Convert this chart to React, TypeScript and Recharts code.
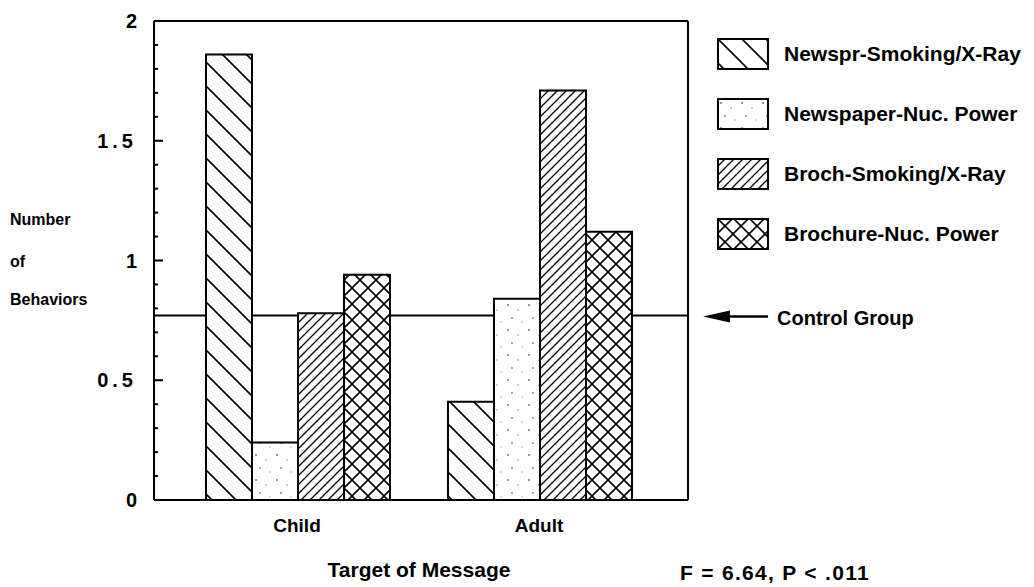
import React from 'react';
import { BarChart, Bar, XAxis, YAxis, ReferenceLine, Legend, CartesianGrid } from 'recharts';

const categories = ['Child', 'Adult'];
const seriesNames = [
  'Newspr-Smoking/X-Ray',
  'Newspaper-Nuc. Power',
  'Broch-Smoking/X-Ray',
  'Brochure-Nuc. Power',
];
const newsprSmoking = [1.86, 0.41];
const newspaperNuc = [0.24, 0.84];
const brochSmoking = [0.78, 1.71];
const brochureNuc = [0.94, 1.12];
const controlGroup = 0.77;
const yMajorTicks = [0, 0.5, 1, 1.5, 2];
const yMajorLabels = ['0', '0.5', '1', '1.5', '2'];
const yAllTicks = [
  0, 0.1, 0.2, 0.3, 0.4, 0.5, 0.6, 0.7, 0.8, 0.9, 1,
  1.1, 1.2, 1.3, 1.4, 1.5, 1.6, 1.7, 1.8, 1.9, 2,
];
const yDomain = [0, 2];
const xTitle = 'Target of Message';
const yTitle = ['Number', 'of', 'Behaviors'];
const statText = 'F = 6.64, P < .011';
const controlText = 'Control Group';

const seriesKeys = ['s0', 's1', 's2', 's3'];
const patternIds = ['patBack', 'patDots', 'patFwd', 'patCross'];

const data = categories.map((name, i) => ({
  name,
  s0: newsprSmoking[i],
  s1: newspaperNuc[i],
  s2: brochSmoking[i],
  s3: brochureNuc[i],
}));

const W = 1034;
const H = 587;
const MARGIN = { top: 21, right: 346, bottom: 0, left: 0 };
const YAXIS_W = 154;
const AXIS_X = MARGIN.left + YAXIS_W;
const FONT = '"Liberation Sans", Arial, Helvetica, sans-serif';

function Patterns() {
  return (
    <defs>
      <pattern id="patBack" patternUnits="userSpaceOnUse" width={24} height={24}>
        <rect width={24} height={24} fill="#fff" />
        <path d="M0,0 L24,24 M-6,18 L6,30 M18,-6 L30,6" stroke="#000" strokeWidth={1.6} />
      </pattern>
      <pattern id="patFwd" patternUnits="userSpaceOnUse" width={9} height={9}>
        <rect width={9} height={9} fill="#fff" />
        <path d="M0,9 L9,0 M-3,3 L3,-3 M6,12 L12,6" stroke="#000" strokeWidth={1.3} />
      </pattern>
      <pattern id="patCross" patternUnits="userSpaceOnUse" width={16} height={16}>
        <rect width={16} height={16} fill="#fff" />
        <path d="M0,0 L16,16 M16,0 L0,16" stroke="#000" strokeWidth={1.6} />
      </pattern>
      <pattern id="patDots" patternUnits="userSpaceOnUse" width={21} height={25}>
        <rect width={21} height={25} fill="#fff" />
        <circle cx={4} cy={5} r={0.9} fill="#666" />
        <circle cx={14} cy={10} r={0.8} fill="#888" />
        <circle cx={8} cy={18} r={0.9} fill="#777" />
        <circle cx={18} cy={22} r={0.7} fill="#999" />
      </pattern>
    </defs>
  );
}

function YTick(props: any) {
  const { y, payload } = props;
  const v = payload.value;
  const idx = yMajorTicks.indexOf(v);
  const major = idx >= 0;
  return (
    <g>
      <line x1={AXIS_X} x2={AXIS_X + (major ? 9 : 4)} y1={y} y2={y} stroke="#000" strokeWidth={2} />
      {major && (
        <text
          x={AXIS_X - 17}
          y={y}
          dy="0.36em"
          textAnchor="end"
          fontFamily={FONT}
          fontWeight="bold"
          fontSize={20}
          letterSpacing={yMajorLabels[idx].length > 1 ? 4 : 0}
          fill="#000"
        >
          {yMajorLabels[idx]}
        </text>
      )}
    </g>
  );
}

function XTick(props: any) {
  const { x, payload } = props;
  return (
    <text
      x={x}
      y={525}
      dy="0.36em"
      textAnchor="middle"
      fontFamily={FONT}
      fontWeight="bold"
      fontSize={19}
      fill="#000"
    >
      {payload.value}
    </text>
  );
}

function XTitle(props: any) {
  const vb = props.viewBox || {};
  const cx = vb.x + vb.width / 2;
  return (
    <g>
      <text x={cx - 2} y={577} textAnchor="middle" fontFamily={FONT} fontWeight="bold" fontSize={21} fill="#000">
        {xTitle}
      </text>
      <text
        x={vb.x + vb.width - 8}
        y={580}
        textAnchor="start"
        fontFamily={FONT}
        fontWeight="bold"
        fontSize={21}
        letterSpacing={1.3}
        fill="#000"
      >
        {statText}
      </text>
    </g>
  );
}

function YTitle(props: any) {
  const vb = props.viewBox || {};
  const cy = vb.y + vb.height / 2;
  const offs = [-41, 1, 39];
  return (
    <g>
      {yTitle.map((t, i) => (
        <text
          key={t}
          x={vb.x + 10}
          y={cy + offs[i]}
          dy="0.36em"
          fontFamily={FONT}
          fontWeight="bold"
          fontSize={16}
          fill="#000"
        >
          {t}
        </text>
      ))}
    </g>
  );
}

function ControlLabel(props: any) {
  const vb = props.viewBox || {};
  const xr = vb.x + vb.width;
  const y = vb.y;
  return (
    <g>
      <path d={`M${xr + 15},${y + 1} L${xr + 42},${y - 5} L${xr + 42},${y + 7} Z`} fill="#000" />
      <line x1={xr + 40} x2={xr + 80} y1={y + 1} y2={y + 1} stroke="#000" strokeWidth={2.5} />
      <text x={xr + 89} y={y + 2} dy="0.36em" fontFamily={FONT} fontWeight="bold" fontSize={20} fill="#000">
        {controlText}
      </text>
    </g>
  );
}

function LegendContent() {
  return (
    <div style={{ fontFamily: FONT }}>
      {seriesNames.map((n, i) => (
        <div key={n} style={{ display: 'flex', alignItems: 'center', height: 30, marginBottom: 30 }}>
          <svg width={52} height={32} style={{ display: 'block' }}>
            <rect x={1} y={1} width={50} height={30} fill={`url(#${patternIds[i]})`} stroke="#000" strokeWidth={2} />
          </svg>
          <span style={{ marginLeft: 15, fontWeight: 'bold', fontSize: 21, color: '#000', whiteSpace: 'nowrap' }}>{n}</span>
        </div>
      ))}
    </div>
  );
}

// Frame (top / bottom edges) plus the control-group level, drawn below the bars.
function horizontalLines(p: any) {
  const off = p.offset || {};
  const top = off.top;
  const bottom = off.top + off.height;
  let yc;
  const sc = p.yAxis && p.yAxis.scale;
  if (typeof sc === 'function') yc = sc(controlGroup);
  else yc = top + off.height * (1 - (controlGroup - yDomain[0]) / (yDomain[1] - yDomain[0]));
  return [top, yc, bottom];
}

function verticalLines(p: any) {
  const off = p.offset || {};
  return [off.left, off.left + off.width];
}

export default function App() {
  return (
    <div style={{ position: 'absolute', left: 0, top: 0, background: '#fff' }}>
      <BarChart width={W} height={H} data={data} margin={MARGIN} barGap={0} barCategoryGap={30}>
        <Patterns />
        <CartesianGrid
          stroke="#000"
          strokeWidth={2}
          horizontalCoordinatesGenerator={horizontalLines}
          verticalCoordinatesGenerator={verticalLines}
        />
        <XAxis
          dataKey="name"
          padding={{ left: 22, right: 28 }}
          height={87}
          axisLine={{ stroke: '#000', strokeWidth: 2 }}
          tickLine={false}
          tick={(p: any) => <XTick {...p} />}
          label={(p: any) => <XTitle {...p} />}
        />
        <YAxis
          width={YAXIS_W}
          domain={yDomain}
          ticks={yAllTicks}
          interval={0}
          axisLine={{ stroke: '#000', strokeWidth: 2 }}
          tickLine={false}
          tick={(p: any) => <YTick {...p} />}
          label={(p: any) => <YTitle {...p} />}
        />
        {seriesKeys.map((k, i) => (
          <Bar
            key={k}
            dataKey={k}
            name={seriesNames[i]}
            fill={`url(#${patternIds[i]})`}
            stroke="#000"
            strokeWidth={2}
            isAnimationActive={false}
          />
        ))}
        <ReferenceLine
          y={controlGroup}
          stroke="none"
          strokeWidth={0}
          label={(p: any) => <ControlLabel {...p} />}
        />
        <Legend
          layout="vertical"
          align="center"
          verticalAlign="middle"
          wrapperStyle={{ left: 717, top: 39, width: 317 }}
          content={() => <LegendContent />}
        />
      </BarChart>
    </div>
  );
}
